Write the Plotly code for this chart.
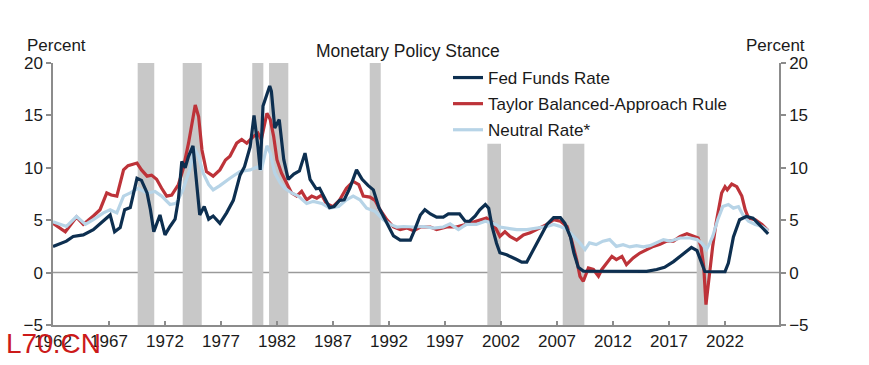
import plotly.graph_objects as go

# ---------------- data ----------------
fed_years = [1962.0, 1963.2, 1963.8, 1964.7, 1965.6, 1966.5, 1967.1, 1967.5, 1968.0, 1968.4, 1968.9, 1969.2,
             1969.5, 1969.9, 1970.4, 1970.7, 1971.0, 1971.55, 1972.0, 1972.45, 1972.9, 1973.2, 1973.5, 1973.8,
             1974.1, 1974.5, 1974.8, 1975.1, 1975.5, 1975.9, 1976.3, 1976.9, 1977.5, 1978.1, 1978.7, 1979.1,
             1979.6, 1979.95, 1980.3, 1980.5, 1980.75, 1981.35, 1981.5, 1981.8, 1982.2, 1982.6, 1983.0, 1983.5,
             1984.0, 1984.5, 1984.95, 1985.5, 1985.8, 1986.3, 1986.7, 1987.1, 1987.6, 1988.0, 1988.5, 1989.1,
             1989.6, 1990.15, 1990.6, 1991.1, 1991.5, 1991.8, 1992.4, 1993.0, 1993.9, 1994.3, 1994.8, 1995.2,
             1995.7, 1996.25, 1996.85, 1997.3, 1998.3, 1998.8, 1999.2, 1999.7, 2000.1, 2000.6, 2000.9, 2001.2,
             2001.6, 2001.9, 2002.5, 2003.4, 2003.85, 2004.3, 2004.9, 2005.5, 2006.1, 2006.7, 2007.3, 2007.7,
             2008.2, 2008.5, 2008.9, 2009.35, 2010.5, 2012.0, 2013.5, 2015.0, 2015.9, 2016.6, 2017.4, 2018.3,
             2019.0, 2019.5, 2019.9, 2020.2, 2021.0, 2022.0, 2022.3, 2022.75, 2023.3, 2023.9, 2024.5, 2025.1,
             2025.85]
fed_values = [2.5, 3.0, 3.45, 3.6, 4.1, 4.9, 5.5, 3.9, 4.3, 6.0, 6.2, 7.6,
              9.0, 8.8, 7.6, 6.0, 3.9, 5.5, 3.6, 4.4, 5.1, 7.0, 10.6, 10.0,
              11.1, 12.1, 8.9, 5.5, 6.3, 5.1, 5.4, 4.7, 5.7, 6.9, 9.3, 10.1,
              12.0, 15.0, 12.0, 9.8, 15.9, 17.8, 17.3, 13.8, 14.6, 10.8, 8.9, 9.4,
              9.7, 11.4, 8.9, 8.0, 8.05, 7.0, 6.2, 6.3, 6.9, 6.95, 8.05, 9.8,
              8.9, 8.3, 7.9, 6.2, 5.4, 4.7, 3.5, 3.1, 3.1, 4.1, 5.5, 6.0,
              5.6, 5.3, 5.3, 5.6, 5.6, 4.9, 4.9, 5.4, 6.0, 6.5, 6.15, 4.4,
              2.8, 1.9, 1.7, 1.25, 1.0, 1.0, 2.2, 3.5, 4.6, 5.25, 5.25, 4.7,
              3.4, 1.9, 0.5, 0.15, 0.15, 0.1, 0.1, 0.12, 0.3, 0.5, 1.05, 1.85,
              2.4, 2.1, 1.0, 0.1, 0.08, 0.1, 0.9, 3.4, 5.05, 5.35, 5.2, 4.5,
              3.7]

taylor_years = [1962.0, 1963.1, 1964.1, 1964.7, 1965.6, 1966.2, 1966.8, 1967.2, 1967.7, 1968.3, 1968.7, 1969.5,
                1969.9, 1970.4, 1970.8, 1971.25, 1971.7, 1972.15, 1972.6, 1973.2, 1973.6, 1974.1, 1974.7, 1975.0,
                1975.3, 1975.7, 1976.3, 1976.9, 1977.4, 1977.8, 1978.4, 1978.85, 1979.3, 1979.9, 1980.3, 1980.6,
                1981.1, 1981.4, 1981.7, 1982.0, 1982.4, 1982.9, 1983.3, 1983.75, 1984.2, 1984.65, 1985.1, 1985.55,
                1986.0, 1986.4, 1987.0, 1987.6, 1988.2, 1988.8, 1989.3, 1989.7, 1990.3, 1990.75, 1991.2, 1991.8,
                1992.4, 1993.0, 1993.6, 1994.2, 1994.8, 1995.7, 1996.25, 1997.15, 1998.0, 1998.9, 1999.8, 2000.7,
                2001.3, 2001.9, 2002.35, 2002.8, 2003.4, 2004.0, 2004.6, 2005.5, 2006.1, 2006.7, 2007.3, 2007.9,
                2008.3, 2008.75, 2009.05, 2009.35, 2009.8, 2010.25, 2010.7, 2011.0, 2011.4, 2011.9, 2012.3, 2012.8,
                2013.2, 2013.8, 2014.4, 2015.0, 2015.6, 2016.2, 2016.8, 2017.4, 2018.0, 2018.6, 2019.2, 2019.6,
                2019.85, 2020.1, 2020.3, 2020.5, 2020.7, 2020.9, 2021.2, 2021.7, 2022.0, 2022.2, 2022.6, 2023.05,
                2023.5, 2023.8, 2024.1, 2024.7, 2025.3, 2025.85]
taylor_values = [4.7, 3.9, 5.3, 4.6, 5.4, 6.0, 7.6, 7.4, 7.3, 9.8, 10.2, 10.45,
                 9.8, 9.2, 9.3, 8.9, 8.05, 7.3, 7.4, 8.4, 9.8, 12.35, 16.0, 14.9,
                 11.7, 9.65, 9.2, 9.8, 10.75, 11.1, 12.35, 12.7, 12.35, 13.0, 13.3, 12.7,
                 15.2, 14.6, 13.0, 10.75, 9.5, 8.4, 7.6, 7.3, 7.75, 6.95, 7.3, 7.1,
                 7.4, 6.6, 6.3, 6.95, 8.05, 8.7, 8.4, 7.3, 7.2, 6.9, 6.0, 5.05,
                 4.35, 4.1, 4.25, 4.0, 4.35, 4.35, 4.1, 4.35, 4.35, 4.6, 4.9, 5.2,
                 4.7, 3.46, 3.9, 3.46, 3.1, 3.6, 3.8, 4.25, 4.6, 5.05, 4.9, 4.4,
                 3.1, 1.24, -0.35, -0.83, 0.45, 0.3, -0.35, 0.3, 0.9, 1.55, 1.24, 1.55,
                 0.76, 1.4, 1.87, 2.2, 2.5, 2.7, 3.0, 3.0, 3.46, 3.7, 3.46, 3.3,
                 2.5, 0.6, -3.05, -1.0, 0.6, 2.5, 4.7, 7.6, 8.2, 7.9, 8.45, 8.2,
                 7.3, 6.0, 5.2, 5.05, 4.6, 4.0]

neutral_years = [1962.0, 1963.2, 1964.1, 1964.9, 1965.6, 1966.5, 1967.1, 1967.7, 1968.3, 1968.9, 1969.6, 1970.4,
                 1971.1, 1971.7, 1972.45, 1973.0, 1973.6, 1974.2, 1974.6, 1975.0, 1975.4, 1975.9, 1976.3, 1976.9,
                 1977.8, 1978.7, 1979.6, 1980.3, 1980.6, 1981.1, 1981.4, 1981.8, 1982.3, 1982.7, 1983.3, 1983.9,
                 1984.65, 1985.25, 1986.0, 1986.7, 1987.5, 1988.2, 1988.8, 1989.4, 1990.0, 1990.75, 1991.5, 1992.1,
                 1992.7, 1993.3, 1994.2, 1995.1, 1996.0, 1996.85, 1997.45, 1998.2, 1998.9, 1999.8, 2000.6, 2001.3,
                 2001.9, 2002.5, 2003.4, 2004.3, 2005.2, 2006.1, 2006.7, 2007.3, 2007.9, 2008.5, 2009.05, 2009.5,
                 2009.9, 2010.5, 2011.1, 2011.7, 2012.3, 2012.9, 2013.5, 2014.1, 2014.7, 2015.3, 2015.9, 2016.5,
                 2017.1, 2018.0, 2018.9, 2019.5, 2019.9, 2020.35, 2020.65, 2020.9, 2021.35, 2021.8, 2022.3, 2022.75,
                 2023.2, 2023.6, 2024.1, 2024.7, 2025.3, 2025.85]
neutral_values = [4.85, 4.4, 5.35, 4.6, 5.05, 5.7, 6.0, 5.7, 7.3, 7.6, 8.05, 7.6,
                  7.75, 7.3, 6.5, 6.6, 7.9, 9.8, 11.9, 11.1, 9.5, 8.4, 7.9, 8.3,
                  9.0, 9.65, 9.8, 10.1, 9.8, 12.1, 11.4, 9.5, 8.55, 8.05, 7.6, 7.3,
                  6.6, 6.8, 6.6, 6.15, 6.3, 6.95, 7.3, 6.95, 6.15, 5.85, 5.05, 4.6,
                  4.35, 4.4, 4.35, 4.4, 4.25, 4.35, 4.65, 4.1, 4.6, 4.6, 4.9, 4.7,
                  4.35, 4.25, 4.1, 4.1, 4.25, 4.4, 4.6, 4.4, 4.1, 3.46, 2.83, 2.2,
                  2.83, 2.67, 3.0, 3.15, 2.5, 2.67, 2.45, 2.57, 2.45, 2.57, 2.83, 3.15,
                  3.0, 3.3, 3.3, 3.15, 2.83, 2.2, 2.83, 3.46, 5.05, 6.3, 6.5, 6.15,
                  6.3, 5.5, 4.9, 4.6, 4.4, 4.0]

recession_starts = [1969.56, 1973.58, 1979.79, 1981.29, 1990.28, 2000.78, 2007.51, 2019.47]
recession_ends = [1971.04, 1975.28, 1980.78, 1983.01, 1991.26, 2002.0, 2009.44, 2020.46]
recession_tops = [20, 20, 20, 20, 20, 12.3, 12.3, 12.3]

x_tick_years = [1962, 1967, 1972, 1977, 1982, 1987, 1992, 1997, 2002, 2007, 2012, 2017, 2022]
y_ticks = [-5, 0, 5, 10, 15, 20]

# ---------------- layout constants ----------------
W, H = 869, 365
L, R, T, B = 53, 779, 63, 325
PW, PH = R - L, B - T
FONT = "Liberation Sans, Arial, sans-serif"
TXT = "#1a1a1a"
AX = "#8c8c8c"
NAVY = "#0d2f50"
RED = "#bd3339"
LBLUE = "#b7d4e7"


def px(xp):
    return (xp - L) / PW


def py(yp):
    return (B - yp) / PH


fig = go.Figure()

fig.add_trace(go.Scatter(x=taylor_years, y=taylor_values, mode="lines", name="Taylor Balanced-Approach Rule",
                         line=dict(color=RED, width=3.2), legendrank=2, legendgroup="b"))
fig.add_trace(go.Scatter(x=neutral_years, y=neutral_values, mode="lines", name="Neutral Rate*",
                         line=dict(color=LBLUE, width=3.2), legendrank=3, legendgroup="c"))
fig.add_trace(go.Scatter(x=fed_years, y=fed_values, mode="lines", name="Fed Funds Rate",
                         line=dict(color=NAVY, width=3.2), legendrank=1, legendgroup="a"))
# invisible trace to activate right axis
fig.add_trace(go.Scatter(x=[1962], y=[0], yaxis="y2", mode="markers", marker=dict(opacity=0),
                         showlegend=False, hoverinfo="skip"))

shapes = []
for x0, x1, top in zip(recession_starts, recession_ends, recession_tops):
    shapes.append(dict(type="rect", xref="x", yref="y", x0=x0, x1=x1, y0=-5, y1=top,
                       fillcolor="#c8c8c8", line=dict(width=0), layer="below"))
shapes.append(dict(type="line", xref="paper", yref="y", x0=0, x1=1, y0=0, y1=0,
                   line=dict(color="#9a9a9a", width=1.5), layer="below"))

annotations = [
    dict(text="Percent", x=px(56), y=py(46), xref="paper", yref="paper", showarrow=False,
         font=dict(size=17, color=TXT, family=FONT), xanchor="center", yanchor="middle"),
    dict(text="Percent", x=px(775), y=py(46), xref="paper", yref="paper", showarrow=False,
         font=dict(size=17, color=TXT, family=FONT), xanchor="center", yanchor="middle"),
    dict(text="Monetary Policy Stance", x=px(408), y=py(51), xref="paper", yref="paper", showarrow=False,
         font=dict(size=17.5, color=TXT, family=FONT), xanchor="center", yanchor="middle"),
    dict(text="L70.CN", x=px(4), y=py(343), xref="paper", yref="paper", showarrow=False,
         font=dict(size=28, color="#cc1a1a", family=FONT), xanchor="left", yanchor="middle"),
]

fig.update_layout(
    width=W, height=H,
    margin=dict(l=L, r=W - R, t=T, b=H - B, autoexpand=False),
    paper_bgcolor="white", plot_bgcolor="white",
    font=dict(family=FONT, size=17, color=TXT),
    showlegend=True,
    legend=dict(x=px(448), y=py(60), xanchor="left", yanchor="top", bgcolor="rgba(0,0,0,0)",
                font=dict(size=17, color=TXT, family=FONT), traceorder="grouped", tracegroupgap=1,
                itemwidth=30),
    xaxis=dict(range=[1962, 2026.82], tickvals=x_tick_years, ticktext=[str(v) for v in x_tick_years],
               showgrid=False, zeroline=False, showline=True, linecolor=AX, linewidth=1.5,
               ticks="inside", ticklen=4, tickcolor=AX, tickwidth=1.5,
               tickfont=dict(size=17, color=TXT, family=FONT)),
    yaxis=dict(range=[-5, 20], tickvals=y_ticks, showgrid=False, zeroline=False, showline=True,
               linecolor=AX, linewidth=1.5, ticks="outside", ticklen=5, tickcolor=AX, tickwidth=1.5,
               tickfont=dict(size=17, color=TXT, family=FONT)),
    yaxis2=dict(range=[-5, 20], tickvals=y_ticks, overlaying="y", side="right", showgrid=False,
                zeroline=False, showline=True, linecolor=AX, linewidth=1.5, ticks="outside", ticklen=5,
                tickcolor=AX, tickwidth=1.5, tickfont=dict(size=17, color=TXT, family=FONT)),
    shapes=shapes,
    annotations=annotations,
)

fig.write_html("out.html", config={"displayModeBar": False},
               post_script="document.body.style.margin='0';document.body.style.padding='0';")
